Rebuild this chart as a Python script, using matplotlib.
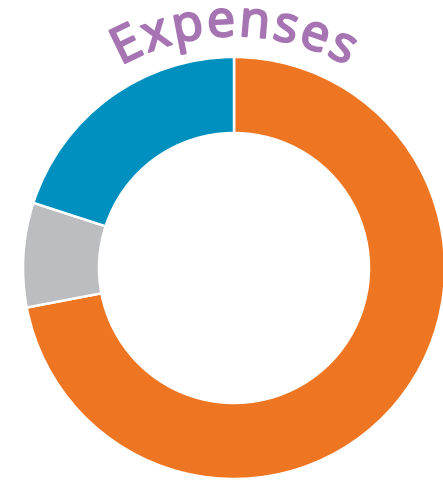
import math
import matplotlib
matplotlib.use("Agg")
import matplotlib.pyplot as plt
import matplotlib.patheffects as pe
from matplotlib.font_manager import FontProperties

# data
categories = ["Main", "Other", "Secondary"]
shares = [72, 8, 20]
colors = ["#EE7623", "#BCBDC0", "#0090BF"]
title = "Expenses"
title_color = "#A673B3"

W, H = 443, 483
fig = plt.figure(figsize=(W / 100, H / 100), dpi=100)
ax = fig.add_axes([0, 0, 1, 1])

# donut (pixel coords, y up)
cx, cy = 234, H - 268
r_out, r_in = 211, 135
ax.pie(shares, colors=colors, startangle=90, counterclock=False,
       radius=r_out, center=(cx, cy),
       wedgeprops=dict(width=r_out - r_in, edgecolor="white", linewidth=1.8))
ax.set_xlim(0, W)
ax.set_ylim(0, H)
ax.set_aspect("auto")
ax.axis("off")

# curved title, concentric with the donut
font_px = 50
prop = FontProperties(family="Open Sans", weight="normal", size=font_px * 0.72)
renderer = fig.canvas.get_renderer()
widths = [renderer.get_text_width_height_descent(ch, prop, ismath=False)[0]
          for ch in title]
track = 2.5
R = 232
total = sum(widths) + track * (len(title) - 1)
pos = -total / 2
for ch, w in zip(title, widths):
    mid = pos + w / 2
    th = mid / R
    x = cx + R * math.sin(th)
    y = cy + R * math.cos(th)
    ax.text(x, y, ch, fontproperties=prop, color=title_color,
            ha="center", va="baseline", rotation=-math.degrees(th),
            rotation_mode="anchor",
            path_effects=[pe.withStroke(linewidth=1.6, foreground=title_color)])
    pos += w + track

fig.savefig("out.png", dpi=100, facecolor="white")
